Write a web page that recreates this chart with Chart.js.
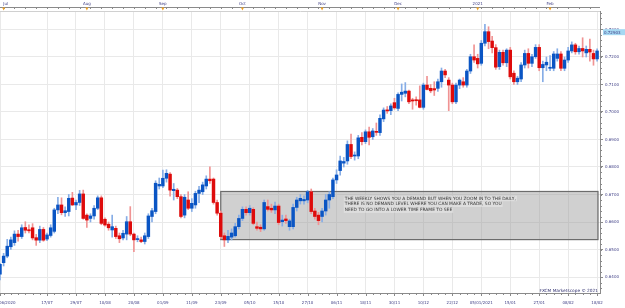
<!DOCTYPE html>
<html>
<head>
<meta charset="utf-8">
<script src="https://cdn.jsdelivr.net/npm/chart.js@4.4.0/dist/chart.umd.min.js"></script>
<style>
  html, body { margin: 0; padding: 0; background: #fff; }
  #wrap { position: relative; width: 625px; height: 308px; }
</style>
</head>
<body>
<div id="wrap"><canvas id="chart" width="625" height="308"></canvas></div>
<script>
'use strict';
// ── Données : NZD/USD journalier, 30/06/2020 → 18/02/2021 ──
const dates = [
  '30/06',
  '01/07','02/07','03/07','06/07','07/07','08/07','09/07','10/07','13/07','14/07','15/07','16/07','17/07',
  '20/07','21/07','22/07','23/07','24/07','27/07','28/07','29/07','30/07','31/07',
  '03/08','04/08','05/08','06/08','07/08','10/08','11/08','12/08','13/08','14/08','17/08','18/08','19/08',
  '20/08','21/08','24/08','25/08','26/08','27/08','28/08','31/08',
  '01/09','02/09','03/09','04/09','07/09','08/09','09/09','10/09','11/09','14/09','15/09','16/09','17/09',
  '18/09','21/09','22/09','23/09','24/09','25/09','28/09','29/09','30/09',
  '01/10','02/10','05/10','06/10','07/10','08/10','09/10','12/10','13/10','14/10','15/10','16/10','19/10',
  '20/10','21/10','22/10','23/10','26/10','27/10','28/10','29/10','30/10',
  '02/11','03/11','04/11','05/11','06/11','09/11','10/11','11/11','12/11','13/11','16/11','17/11','18/11',
  '19/11','20/11','23/11','24/11','25/11','26/11','27/11','30/11',
  '01/12','02/12','03/12','04/12','07/12','08/12','09/12','10/12','11/12','14/12','15/12','16/12','17/12',
  '18/12','21/12','22/12','23/12','24/12','28/12','29/12','30/12','31/12',
  '04/01','05/01','06/01','07/01','08/01','11/01','12/01','13/01','14/01','15/01','18/01','19/01','20/01',
  '21/01','22/01','25/01','26/01','27/01','28/01','29/01',
  '01/02','02/02','03/02','04/02','05/02','08/02','09/02','10/02','11/02','12/02','15/02','16/02','17/02','18/02'
];

const opens = [
  .6410,.6452,.6476,.6510,.6525,.6556,.6547,.6580,.6572,.6579, .6543,.6534,.6573,.6538,.6551,.6566,.6644,.6662,.6634,.6638,
  .6687,.6662,.6671,.6702,.6625,.6613,.6622,.6650,.6688,.6610, .6592,.6571,.6577,.6550,.6542,.6556,.6601,.6556,.6536,.6535,
  .6529,.6547,.6620,.6638,.6731,.6731,.6759,.6774,.6714,.6716, .6692,.6625,.6680,.6650,.6662,.6704,.6710,.6731,.6756,.6756,
  .6671,.6632,.6550,.6535,.6545,.6550,.6583,.6613,.6646,.6634, .6646,.6583,.6581,.6575,.6656,.6650,.6644,.6658,.6601,.6611,
  .6583,.6583,.6653,.6677,.6677,.6680,.6710,.6640,.6625,.6620, .6640,.6680,.6692,.6753,.6787,.6814,.6822,.6882,.6840,.6840,
  .6908,.6892,.6928,.6910,.6928,.6925,.6975,.7007,.7005,.7034, .7013,.7064,.7068,.7076,.7044,.7044,.7044,.7017,.7098,.7086,
  .7085,.7086,.7110,.7149,.7116,.7098,.7037,.7098,.7110,.7098, .7149,.7201,.7195,.7177,.7250,.7292,.7258,.7234,.7165,.7217,
  .7179,.7225,.7141,.7110,.7120,.7171,.7213,.7177,.7201,.7235, .7161,.7171,.7159,.7159,.7195,.7211,.7159,.7189,.7222,.7244,
  .7219,.7231,.7215,.7228,.7213,.7193
];
const highs = [
  .6450,.6486,.6537,.6545,.6568,.6570,.6590,.6601,.6590,.6594, .6555,.6585,.6580,.6560,.6590,.6650,.6690,.6688,.6655,.6700,
  .6708,.6680,.6715,.6716,.6630,.6630,.6660,.6695,.6695,.6615, .6600,.6625,.6585,.6560,.6570,.6620,.6656,.6560,.6550,.6545,
  .6560,.6630,.6650,.6750,.6760,.6789,.6790,.6780,.6740,.6722, .6700,.6700,.6710,.6685,.6712,.6730,.6745,.6768,.6801,.6760,
  .6680,.6640,.6560,.6570,.6575,.6595,.6625,.6655,.6655,.6660, .6652,.6600,.6590,.6680,.6680,.6665,.6672,.6665,.6625,.6625,
  .6610,.6665,.6690,.6700,.6695,.6715,.6720,.6650,.6635,.6650, .6700,.6710,.6760,.6790,.6840,.6835,.6895,.6920,.6855,.6915,
  .6925,.6935,.6945,.6940,.6960,.6990,.7015,.7020,.7030,.7050, .7070,.7102,.7107,.7080,.7050,.7055,.7095,.7105,.7130,.7100,
  .7110,.7120,.7160,.7155,.7125,.7105,.7105,.7120,.7125,.7155, .7210,.7244,.7210,.7260,.7319,.7310,.7275,.7245,.7225,.7225,
  .7230,.7235,.7150,.7130,.7180,.7225,.7230,.7210,.7245,.7245, .7185,.7200,.7205,.7220,.7230,.7220,.7200,.7235,.7255,.7250,
  .7240,.7270,.7240,.7265,.7225,.7230
];
const lows = [
  .6389,.6440,.6470,.6500,.6515,.6530,.6540,.6560,.6560,.6535, .6515,.6525,.6530,.6532,.6545,.6560,.6630,.6626,.6620,.6622,
  .6660,.6645,.6660,.6610,.6580,.6600,.6610,.6645,.6590,.6585, .6570,.6545,.6540,.6525,.6535,.6535,.6550,.6492,.6528,.6525,
  .6520,.6540,.6600,.6630,.6720,.6725,.6745,.6694,.6680,.6685, .6615,.6615,.6645,.6638,.6650,.6670,.6700,.6720,.6740,.6665,
  .6625,.6540,.6511,.6525,.6535,.6545,.6575,.6605,.6625,.6625, .6590,.6570,.6565,.6570,.6640,.6635,.6630,.6590,.6585,.6595,
  .6570,.6575,.6640,.6665,.6665,.6670,.6630,.6610,.6590,.6600, .6625,.6650,.6685,.6740,.6770,.6800,.6810,.6830,.6825,.6830,
  .6880,.6885,.6880,.6900,.6915,.6915,.6965,.6995,.6990,.7010, .7005,.7040,.7055,.7030,.7010,.7025,.7015,.7010,.7080,.7070,
  .7060,.7075,.7090,.7125,.7005,.7030,.7030,.7085,.7090,.7090, .7140,.7180,.7160,.7170,.7240,.7230,.7215,.7155,.7155,.7170,
  .7165,.7120,.7100,.7100,.7110,.7160,.7160,.7165,.7195,.7150, .7110,.7150,.7150,.7150,.7185,.7150,.7150,.7180,.7215,.7210,
  .7210,.7200,.7200,.7185,.7170,.7185
];
const closes = [
  .6446,.6476,.6512,.6535,.6556,.6547,.6579,.6570,.6568,.6542, .6534,.6573,.6534,.6553,.6579,.6644,.6662,.6634,.6641,.6686,
  .6662,.6671,.6702,.6613,.6607,.6622,.6650,.6688,.6595,.6589, .6579,.6583,.6547,.6539,.6559,.6601,.6556,.6535,.6538,.6529,
  .6550,.6622,.6641,.6741,.6737,.6759,.6777,.6716,.6719,.6692, .6620,.6690,.6650,.6668,.6704,.6716,.6735,.6756,.6750,.6671,
  .6632,.6547,.6535,.6548,.6560,.6583,.6613,.6646,.6634,.6650, .6595,.6577,.6575,.6671,.6646,.6644,.6658,.6598,.6607,.6605,
  .6604,.6653,.6680,.6686,.6682,.6710,.6638,.6620,.6605,.6640, .6680,.6700,.6753,.6771,.6822,.6820,.6882,.6838,.6843,.6906,
  .6892,.6928,.6908,.6931,.6926,.6977,.7007,.7004,.7022,.7015, .7064,.7072,.7076,.7037,.7040,.7041,.7017,.7098,.7082,.7077,
  .7080,.7110,.7149,.7135,.7098,.7037,.7098,.7116,.7098,.7149, .7201,.7189,.7175,.7250,.7292,.7256,.7234,.7163,.7217,.7179,
  .7225,.7128,.7110,.7123,.7171,.7213,.7177,.7201,.7235,.7161, .7173,.7181,.7161,.7211,.7211,.7159,.7189,.7222,.7244,.7219,
  .7231,.7222,.7228,.7218,.7193,.7222
];

// axes
const bottomLabels = ['30/06/2020','17/07','29/07','10/08','20/08','01/09','11/09','23/09','05/10','15/10','27/10',
  '06/11','18/11','30/11','10/12','22/12','05/01/2021','15/01','27/01','08/02','18/02'];
const monthStarts = ['01/07','03/08','01/09','01/10','02/11','01/12','04/01','01/02'];
const monthLabels = ['Jul','Aug','Sep','Oct','Nov','Dec','2021','Feb'];
const priceTicks = [0.64,0.65,0.66,0.67,0.68,0.69,0.70,0.71,0.72,0.73];
const lastPrice = 0.72903;

// zone de demande (rectangle gris) + commentaire
const zoneFrom = '23/09';
const zoneLow = 0.6536, zoneHigh = 0.6711;
const note = [
  'THE WEEKLY SHOWS YOU A DEMAND BUT WHEN YOU ZOOM IN TO THE DAILY,',
  'THERE IS NO DEMAND LEVEL WHERE YOU CAN MAKE A TRADE, SO YOU',
  'NEED TO GO INTO A LOWER TIME FRAME TO SEE'
];
const noteAt = '10/11';

// ── Couleurs ────────────────────────────────────────────────────────────────
const BODY_UP = '#0a55c4', BODY_DN = '#de0b0b';
const WICK_UP = '#86ade6', WICK_DN = '#f09393';
const GRID = '#e9e9e9', AXIS = '#8a8a8a', LABEL = '#3f3f86';
const FONT = '"DejaVu Sans", Verdana, sans-serif';

const isUp = closes.map((c, i) => c >= opens[i]);

const overlay = {
  id: 'overlay',
  beforeDatasetsDraw(chart) {
    const { ctx, chartArea: a, scales: { x, y } } = chart;
    const x0 = x.getPixelForValue(dates.indexOf(zoneFrom));
    const yt = y.getPixelForValue(zoneHigh), yb = y.getPixelForValue(zoneLow);
    ctx.save();
    ctx.fillStyle = 'rgba(150,150,150,0.45)';
    ctx.fillRect(x0, yt, a.right - 2 - x0, yb - yt);
    ctx.strokeStyle = '#6c6c6c';
    ctx.lineWidth = 1.2;
    ctx.strokeRect(x0, yt, a.right - 2 - x0, yb - yt);
    ctx.restore();
  },
  afterDraw(chart) {
    const { ctx, chartArea: a, scales: { x, y } } = chart;
    ctx.save();
    ctx.font = '4px ' + FONT;
    ctx.fillStyle = LABEL;
    ctx.strokeStyle = AXIS;
    ctx.lineWidth = 1;

    // axe du bas : petites graduations + étiquettes
    for (let i = 1; i < dates.length; i += 2) {
      const px = Math.round(x.getPixelForValue(i)) + 0.5;
      ctx.beginPath(); ctx.moveTo(px, a.bottom); ctx.lineTo(px, a.bottom + 2); ctx.stroke();
    }
    ctx.textAlign = 'center'; ctx.textBaseline = 'middle';
    bottomLabels.forEach(lbl => {
      const i = dates.indexOf(lbl.slice(0, 5));
      const px = x.getPixelForValue(i);
      ctx.beginPath(); ctx.moveTo(Math.round(px) + 0.5, a.bottom); ctx.lineTo(Math.round(px) + 0.5, a.bottom + 3); ctx.stroke();
      ctx.fillText(lbl, i === 0 ? px + 4 : px, a.bottom + 9.5);
    });

    // axe du haut : ligne, graduations, mois + triangles orange
    const topY = a.top - 4;
    ctx.beginPath(); ctx.moveTo(0, topY + 0.5); ctx.lineTo(a.right, topY + 0.5); ctx.stroke();
    for (let i = 1; i < dates.length; i += 3) {
      const px = Math.round(x.getPixelForValue(i)) + 0.5;
      ctx.beginPath(); ctx.moveTo(px, topY); ctx.lineTo(px, topY + 2); ctx.stroke();
    }
    monthStarts.forEach((d, k) => {
      const px = x.getPixelForValue(dates.indexOf(d));
      ctx.fillStyle = LABEL;
      ctx.fillText(monthLabels[k], px + (k === 0 ? 2 : 0), topY - 3.5);
      ctx.fillStyle = '#f0a020';
      ctx.beginPath(); ctx.moveTo(px - 1.5, topY + 0.5); ctx.lineTo(px + 1.5, topY + 0.5); ctx.lineTo(px, topY + 3.5); ctx.closePath(); ctx.fill();
    });

    // axe de droite : petites graduations
    for (let v = 0.636; v < 0.737; v += 0.002) {
      const py = Math.round(y.getPixelForValue(v)) + 0.5;
      ctx.beginPath(); ctx.moveTo(a.right, py); ctx.lineTo(a.right + 2, py); ctx.stroke();
    }
    // dernier prix surligné
    const ly = y.getPixelForValue(lastPrice);
    ctx.fillStyle = '#a6d8f2';
    ctx.fillRect(a.right + 3, ly - 3, 22, 6);
    ctx.fillStyle = LABEL;
    ctx.textAlign = 'left';
    ctx.fillText(lastPrice.toFixed(5), a.right + 4, ly + 0.3);

    // commentaire dans la zone
    ctx.font = '4.4px ' + FONT;
    const tx = x.getPixelForValue(dates.indexOf(noteAt)) + 1;
    const ty = y.getPixelForValue(zoneHigh) + 7;
    note.forEach((line, k) => {
      const w = ctx.measureText(line).width;
      ctx.fillStyle = 'rgba(235,235,235,0.55)';
      ctx.fillRect(tx - 1, ty + k * 5.8 - 2.7, w + 2, 5.4);
      ctx.fillStyle = '#333333';
      ctx.fillText(line, tx, ty + k * 5.8);
    });

    // signature
    ctx.font = '4.3px ' + FONT;
    ctx.fillStyle = '#2e2e6e';
    ctx.textAlign = 'right';
    ctx.fillText('FXCM Marketscope \u00a9 2021', a.right - 2, a.bottom - 2.5);
    ctx.restore();
  }
};

new Chart(document.getElementById('chart'), {
  type: 'bar',
  data: {
    datasets: [
      {
        label: 'corps',
        data: dates.map((d, i) => ({ x: i, y: [opens[i], closes[i]] })),
        backgroundColor: isUp.map(u => u ? BODY_UP : BODY_DN),
        barThickness: 2.8, minBarLength: 1, grouped: false, order: 0
      },
      {
        label: 'mèches',
        data: dates.map((d, i) => ({ x: i, y: [lows[i], highs[i]] })),
        backgroundColor: isUp.map(u => u ? WICK_UP : WICK_DN),
        barThickness: 1, grouped: false, order: 1
      }
    ]
  },
  options: {
    responsive: false,
    animation: false,
    layout: { padding: 0 },
    plugins: { legend: { display: false }, tooltip: { enabled: false } },
    scales: {
      x: {
        type: 'linear', position: 'bottom', min: 0, max: 165.8, offset: false,
        afterBuildTicks: s => { s.ticks = bottomLabels.map(l => ({ value: dates.indexOf(l.slice(0, 5)) })); },
        afterFit: s => { s.height = 15; },
        grid: { color: GRID, drawTicks: false, offset: false },
        border: { color: AXIS },
        ticks: { display: false }
      },
      x2: {
        type: 'linear', position: 'top', axis: 'x', min: 0, max: 165.8, offset: false,
        afterFit: s => { s.height = 11; },
        grid: { display: false },
        border: { color: '#d0d0d0' },
        ticks: { display: false }
      },
      y: {
        position: 'right', min: 0.634182, max: 0.736727,
        afterBuildTicks: s => { s.ticks = priceTicks.map(v => ({ value: v })); },
        afterFit: s => { s.width = 25; },
        grid: { color: GRID, tickLength: 3, tickColor: AXIS },
        border: { color: AXIS },
        ticks: { font: { family: FONT, size: 4 }, color: LABEL, padding: 2, callback: v => v.toFixed(4) }
      }
    }
  },
  plugins: [overlay]
});
</script>
</body>
</html>
